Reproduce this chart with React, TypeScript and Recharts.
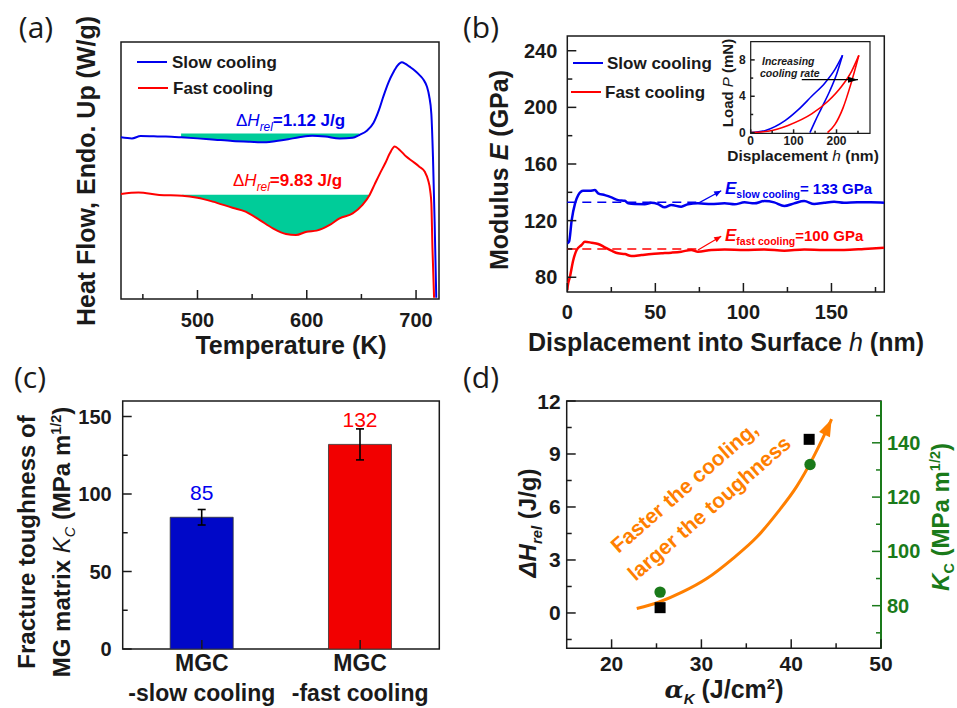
import React from "react";
import {
  ComposedChart,
  BarChart,
  Bar,
  Cell,
  ErrorBar,
  LabelList,
  Line,
  Area,
  Scatter,
  XAxis,
  YAxis,
  ReferenceArea,
  ReferenceLine,
} from "recharts";

const SANS = '"Liberation Sans", Arial, sans-serif';
const LETTER = '"Open Sans", "Noto Sans", sans-serif';
const INK = "#1a1a1a";
const BLUE = "#0000ee";
const RED = "#ff0000";
const TEAL = "#00cc99";
const GREEN = "#1a7a1a";
const ORANGE = "#ff7f00";

// (a) DSC scans, heat flow in arbitrary units (0..100 over the frame)
const slowT = [430, 440, 448, 460, 471, 485, 500, 516, 532, 548, 563, 572, 583, 593, 605, 617, 630, 642, 648, 655, 661, 666, 670, 675, 679, 683, 687, 690, 694, 699, 703, 707, 710, 712, 714, 715.5, 717, 718.5];
const slowHF = [62.9, 62.5, 63.4, 63.3, 63.2, 62.9, 62.5, 62.0, 61.5, 61.2, 61.0, 61.5, 62.2, 62.9, 63.5, 63.2, 62.5, 62.7, 63.8, 65.5, 68.5, 73.5, 78.7, 84.5, 88, 90.8, 92.1, 91.6, 90.4, 88.8, 87.2, 85.2, 82.6, 79, 72, 55, 30, 0.5];
const fastT = [430, 446, 465, 486, 500, 514, 532, 544, 557, 569, 581, 590, 600, 609, 621, 630, 642, 651, 657.5, 662, 667, 672, 676, 680.5, 685, 691, 697, 703, 708, 711, 713, 714, 715, 716.5];
const fastHF = [40.9, 41.4, 40.5, 40.2, 39.4, 37.9, 35.5, 34.0, 30.7, 27.5, 25.3, 24.9, 26.2, 26.6, 28.8, 31.4, 33.3, 36.6, 40.5, 44.5, 48.9, 53, 56.7, 59.3, 58, 55.4, 53.5, 51.5, 49.5, 46.3, 42, 37.2, 20, 0.5];
const slowRelax = [485, 650];
const slowRelaxLevel = 64.4;
const fastRelax = [486, 657.5];
const fastRelaxLevel = 40.6;
const tempTicks = [450, 500, 550, 600, 650, 700];
const tempMajor = [500, 600, 700];

// (b) modulus vs depth
const depthSlow = [0, 1, 2.5, 4.4, 6.2, 9, 12.8, 15.7, 17.5, 21.3, 25.1, 28.9, 32.7, 34.6, 38.3, 44, 47.8, 51.5, 55.3, 59, 64.7, 68.5, 74.2, 81.7, 89.3, 95, 100.6, 106.2, 111.9, 117.5, 123.2, 128.8, 134.5, 140.2, 145.8, 151.5, 157.1, 164.7, 172.3, 180];
const modSlow = [104, 105.1, 120.4, 132.2, 138, 141.1, 141.1, 141.6, 139.3, 138, 136.4, 134.5, 134, 132.2, 131.7, 131.6, 132.6, 131.7, 129.4, 131, 129.8, 131.6, 132.2, 131.7, 132.2, 131.5, 132.9, 132.2, 133.8, 132.9, 130.3, 132.2, 133.8, 131.7, 132.6, 133.3, 132.6, 132.9, 132.9, 132.6];
const depthFast = [0, 0.2, 1.5, 3.4, 5.3, 8.1, 10, 13.8, 17.5, 21.3, 25.1, 28.9, 32.7, 36.4, 42.1, 47.8, 53.4, 59.1, 64.7, 70.4, 74.2, 81.7, 89.3, 100.6, 111.9, 123.2, 134.5, 145.8, 157.1, 168.5, 180];
const modFast = [71, 73.4, 80.4, 92.2, 99.3, 102.8, 105.1, 104.4, 103.5, 101.2, 98.8, 96.9, 96.4, 95, 95.7, 96.4, 96.9, 97.4, 98.1, 99.3, 98, 99.3, 99.7, 99.3, 99.7, 98.8, 99.7, 99.3, 99.3, 100, 100.9];
const eSlow = 133;
const eFast = 100;
const avgSpan = [0, 74];
const slowPointer = [[74.2, 132.2], [87.4, 141.1]];
const fastPointer = [[74.2, 99.3], [87.4, 109]];
const depthTicks = [0, 25, 50, 75, 100, 125, 150, 175];
const depthMajor = [0, 50, 100, 150];
const modTicks = [80, 100, 120, 140, 160, 180, 200, 220, 240];
const modMajor = [80, 120, 160, 200, 240];

// (b) inset: load-displacement
const loadSlowH = [0, 33, 80, 111, 142, 173, 196, 214];
const loadSlowP = [0, 0.22, 1.32, 2.53, 4.0, 5.47, 6.93, 8.5];
const unloadSlowH = [138, 150, 165, 184, 200, 214];
const unloadSlowP = [0, 1.25, 2.7, 4.55, 6.4, 8.5];
const loadFastH = [0, 40, 87, 142, 180, 212, 235, 252];
const loadFastP = [0, 0.15, 0.8, 2.06, 3.45, 5.1, 6.75, 8.5];
const unloadFastH = [179, 196, 215, 233, 252];
const unloadFastP = [0, 0.88, 2.7, 5.28, 8.5];
const rateArrow = [[119, 5.83], [250, 5.83]];

// (c) fracture toughness
const groups = ["MGC\n-slow cooling", "MGC\n-fast cooling"];
const kcMean = [85, 132];
const kcErr = [5, 10];
const barFill = ["#0008c8", "#f20000"];
const labelFill = [BLUE, RED];
const kcTicks = [0, 25, 50, 75, 100, 125, 150];
const kcMajor = [0, 50, 100, 150];

// (d) correlation
const trendA = [22.8, 25.3, 27.9, 30.6, 33.5, 36.2, 38.4, 40.6, 42.5, 43.6, 44.5];
const trendH = [0.25, 0.62, 1.19, 1.95, 3.08, 4.31, 5.64, 7.15, 8.85, 9.98, 10.97];
const impactA = [25.4, 42.0];
const relaxH = [0.3, 9.83];
const toughA = [25.4, 42.1];
const toughK = [85, 132];
const akTicks = [20, 25, 30, 35, 40, 45, 50];
const akMajor = [20, 30, 40, 50];
const dhTicks = [-1.5, 0, 1.5, 3, 4.5, 6, 7.5, 9, 10.5, 12];
const dhMajor = [0, 3, 6, 9, 12];
const kTicks = [70, 80, 90, 100, 110, 120, 130, 140, 150];
const kMajor = [80, 100, 120, 140];

const zip = (xs: number[], ys: number[]) => xs.map((x, i) => ({ x, y: ys[i] }));
const pairs = (p: number[][]) => p.map(([x, y]) => ({ x, y }));
const fillBetween = (xs: number[], ys: number[], span: number[], level: number) =>
  xs
    .map((x, i) => ({ x, r: [Math.min(ys[i], level), level] }))
    .filter((d) => d.x >= span[0] && d.x <= span[1]);

type TickOpts = {
  side: "bottom" | "left" | "right";
  majors: number[];
  size: number;
  gap: number;
  color?: string;
  len?: number;
  minor?: number;
};

// inward ticks, Origin style
function makeTick(o: TickOpts) {
  const c = o.color ?? INK;
  const len = o.len ?? 9;
  const ml = o.minor ?? 5;
  return (p: any) => {
    const v = p.payload.value;
    const major = o.majors.includes(v);
    const l = major ? len : ml;
    const { x, y } = p;
    const txt = { fontFamily: SANS, fontWeight: 700, fontSize: o.size, fill: c };
    if (o.side === "bottom") {
      return (
        <g>
          <line x1={x} y1={y} x2={x} y2={y - l} stroke={c} strokeWidth={1.5} />
          {major && (
            <text x={x} y={y + o.gap} textAnchor="middle" dominantBaseline="central" style={txt}>
              {v}
            </text>
          )}
        </g>
      );
    }
    const dir = o.side === "left" ? 1 : -1;
    return (
      <g>
        <line x1={x} y1={y} x2={x + dir * l} y2={y} stroke={c} strokeWidth={1.5} />
        {major && (
          <text
            x={x - dir * o.gap}
            y={y}
            textAnchor={o.side === "left" ? "end" : "start"}
            dominantBaseline="central"
            style={txt}
          >
            {v}
          </text>
        )}
      </g>
    );
  };
}

function arrowHead(color: string, len: number, half: number, n: number) {
  let prev: { x: number; y: number } | null = null;
  return (p: any) => {
    const pts = p.points;
    const before = pts && pts.length > 1 ? pts[pts.length - 2] : prev;
    prev = { x: p.cx, y: p.cy };
    if (p.index !== n - 1 || !before) return <g key={`d${p.index}`} />;
    const ang = Math.atan2(p.cy - before.y, p.cx - before.x);
    const ux = Math.cos(ang);
    const uy = Math.sin(ang);
    const bx = p.cx - ux * len;
    const by = p.cy - uy * len;
    const d = `M${p.cx},${p.cy} L${bx - uy * half},${by + ux * half} L${bx + uy * half},${by - ux * half} Z`;
    return <path key={`d${p.index}`} d={d} fill={color} stroke="none" />;
  };
}

function Txt(props: {
  x: number;
  y: number;
  rot?: number;
  anchor?: "start" | "middle" | "end";
  size: number;
  color?: string;
  weight?: number;
  italic?: boolean;
  font?: string;
  children: React.ReactNode;
}) {
  const { x, y, rot = 0, anchor = "middle", size, color = INK, weight = 700, italic = false, font = SANS, children } = props;
  const tx = anchor === "middle" ? "-50%" : anchor === "start" ? "0%" : "-100%";
  return (
    <div
      style={{
        position: "absolute",
        left: x,
        top: y,
        transform: `translate(${tx},-50%) rotate(${rot}deg)`,
        fontFamily: font,
        fontSize: size,
        fontWeight: weight,
        fontStyle: italic ? "italic" : "normal",
        color,
        whiteSpace: "nowrap",
        lineHeight: 1,
      }}
    >
      {children}
    </div>
  );
}

const Sub = ({ children, s = 0.62, it = false, w }: { children: React.ReactNode; s?: number; it?: boolean; w?: number }) => (
  <span style={{ fontSize: `${s}em`, position: "relative", top: "0.38em", fontStyle: it ? "italic" : undefined, fontWeight: w }}>
    {children}
  </span>
);
const Sup = ({ children, s = 0.6 }: { children: React.ReactNode; s?: number }) => (
  <span style={{ fontSize: `${s}em`, position: "relative", top: "-0.6em" }}>{children}</span>
);

const Key = ({ x, y, color }: { x: number; y: number; color: string }) => (
  <div style={{ position: "absolute", left: x, top: y - 1.25, width: 30, height: 2.5, background: color }} />
);

function CatTick(p: any) {
  const [a, b] = String(p.payload.value).split("\n");
  const txt = { fontFamily: SANS, fontWeight: 700, fontSize: 23, fill: INK };
  return (
    <g>
      <line x1={p.x} y1={p.y} x2={p.x} y2={p.y - 9} stroke={INK} strokeWidth={1.5} />
      <text x={p.x} y={p.y + 14} textAnchor="middle" dominantBaseline="central" style={txt}>
        {a}
      </text>
      <text x={p.x} y={p.y + 44} textAnchor="middle" dominantBaseline="central" style={txt}>
        {b}
      </text>
    </g>
  );
}

function ValueLabel(p: any) {
  const { x, y, width, value, index } = p;
  return (
    <text
      x={x + width / 2}
      y={y - 25}
      textAnchor="middle"
      dominantBaseline="central"
      style={{ fontFamily: SANS, fontSize: 21, fill: labelFill[index] }}
    >
      {value}
    </text>
  );
}

const noAxis = { axisLine: false, tickLine: false, tickSize: 0, tickMargin: 0, interval: 0 as const };

export default function App() {
  const slowDsc = zip(slowT, slowHF);
  const fastDsc = zip(fastT, fastHF);
  const slowFill = fillBetween(slowT, slowHF, slowRelax, slowRelaxLevel);
  const fastFill = fillBetween(fastT, fastHF, fastRelax, fastRelaxLevel);

  const kcRows = groups.map((name, i) => ({ name, v: kcMean[i], err: kcErr[i] }));
  const trend = zip(trendA, trendH);

  return (
    <div style={{ position: "absolute", left: 0, top: 0, width: 957, height: 708, background: "#fff", overflow: "hidden" }}>
      {/* (a) */}
      <div style={{ position: "absolute", left: 0, top: 0 }}>
        <ComposedChart width={478} height={330} margin={{ top: 42, right: 39, bottom: 30, left: 120 }}>
          <XAxis
            type="number"
            dataKey="x"
            domain={[430, 721]}
            ticks={tempTicks}
            allowDataOverflow
            height={1}
            {...noAxis}
            tick={makeTick({ side: "bottom", majors: tempMajor, size: 20, gap: 21 })}
          />
          <YAxis type="number" domain={[0, 100]} allowDataOverflow width={1} axisLine={false} tickLine={false} tick={false} />
          <Area data={slowFill} dataKey="r" type="monotone" stroke="none" fill={TEAL} fillOpacity={1} isAnimationActive={false} />
          <Area data={fastFill} dataKey="r" type="monotone" stroke="none" fill={TEAL} fillOpacity={1} isAnimationActive={false} />
          <Line data={slowDsc} dataKey="y" type="monotone" stroke={BLUE} strokeWidth={2} dot={false} isAnimationActive={false} />
          <Line data={fastDsc} dataKey="y" type="monotone" stroke={RED} strokeWidth={2} dot={false} isAnimationActive={false} />
          <ReferenceArea x1={430} x2={721} y1={0} y2={100} fill="none" stroke={INK} strokeWidth={1.5} ifOverflow="visible" />
        </ComposedChart>
      </div>

      {/* (b) */}
      <div style={{ position: "absolute", left: 478, top: 0 }}>
        <ComposedChart width={479} height={330} margin={{ top: 36, right: 72.7, bottom: 37, left: 88.3 }}>
          <XAxis
            type="number"
            dataKey="x"
            domain={[0, 180]}
            ticks={depthTicks}
            allowDataOverflow
            height={1}
            {...noAxis}
            tick={makeTick({ side: "bottom", majors: depthMajor, size: 20, gap: 20 })}
          />
          <YAxis
            type="number"
            domain={[69.6, 250.4]}
            ticks={modTicks}
            allowDataOverflow
            width={1}
            {...noAxis}
            tick={makeTick({ side: "left", majors: modMajor, size: 20, gap: 10 })}
          />
          <ReferenceLine segment={[{ x: avgSpan[0], y: eSlow }, { x: avgSpan[1], y: eSlow }]} stroke={BLUE} strokeWidth={1.5} strokeDasharray="9 6" />
          <ReferenceLine segment={[{ x: avgSpan[0], y: eFast }, { x: avgSpan[1], y: eFast }]} stroke={RED} strokeWidth={1.5} strokeDasharray="9 6" />
          <Line data={zip(depthSlow, modSlow)} dataKey="y" type="monotone" stroke={BLUE} strokeWidth={2.5} dot={false} isAnimationActive={false} />
          <Line data={zip(depthFast, modFast)} dataKey="y" type="monotone" stroke={RED} strokeWidth={2.5} dot={false} isAnimationActive={false} />
          <Line data={pairs(slowPointer)} dataKey="y" type="linear" stroke={BLUE} strokeWidth={1.2} dot={arrowHead(BLUE, 7, 3, 2)} isAnimationActive={false} />
          <Line data={pairs(fastPointer)} dataKey="y" type="linear" stroke={RED} strokeWidth={1.2} dot={arrowHead(RED, 7, 3, 2)} isAnimationActive={false} />
          <ReferenceArea x1={0} x2={180} y1={69.6} y2={250.4} fill="none" stroke={INK} strokeWidth={1.5} ifOverflow="visible" />
        </ComposedChart>
      </div>

      {/* (b) inset */}
      <div style={{ position: "absolute", left: 700, top: 30 }}>
        <ComposedChart width={180} height={130} margin={{ top: 11.7, right: 10, bottom: 25.7, left: 49.7 }}>
          <XAxis
            type="number"
            dataKey="x"
            domain={[0, 278]}
            ticks={[0, 50, 100, 150, 200, 250]}
            allowDataOverflow
            height={1}
            {...noAxis}
            tick={makeTick({ side: "bottom", majors: [0, 100, 200], size: 12, gap: 7.5, len: 4, minor: 2.5 })}
          />
          <YAxis
            type="number"
            domain={[-0.07, 10]}
            ticks={[0, 2, 4, 6, 8]}
            allowDataOverflow
            width={1}
            {...noAxis}
            tick={makeTick({ side: "left", majors: [0, 4, 8], size: 12, gap: 5, len: 4, minor: 2.5 })}
          />
          <Line data={zip(loadSlowH, loadSlowP)} dataKey="y" type="monotone" stroke={BLUE} strokeWidth={1.6} dot={false} isAnimationActive={false} />
          <Line data={zip(unloadSlowH, unloadSlowP)} dataKey="y" type="monotone" stroke={BLUE} strokeWidth={1.6} dot={false} isAnimationActive={false} />
          <Line data={zip(loadFastH, loadFastP)} dataKey="y" type="monotone" stroke={RED} strokeWidth={1.6} dot={false} isAnimationActive={false} />
          <Line data={zip(unloadFastH, unloadFastP)} dataKey="y" type="monotone" stroke={RED} strokeWidth={1.6} dot={false} isAnimationActive={false} />
          <Line data={pairs(rateArrow)} dataKey="y" type="linear" stroke="#000" strokeWidth={1.2} dot={arrowHead("#000", 10, 3, 2)} isAnimationActive={false} />
          <ReferenceArea x1={0} x2={278} y1={-0.07} y2={10} fill="none" stroke={INK} strokeWidth={1.2} ifOverflow="visible" />
        </ComposedChart>
      </div>

      {/* (c) */}
      <div style={{ position: "absolute", left: 0, top: 340 }}>
        <BarChart width={478} height={368} data={kcRows} margin={{ top: 61, right: 38.7, bottom: 58, left: 121.7 }} barCategoryGap="30%">
          <XAxis dataKey="name" type="category" height={1} {...noAxis} tick={CatTick} />
          <YAxis
            type="number"
            domain={[0, 160]}
            ticks={kcTicks}
            allowDataOverflow
            width={1}
            {...noAxis}
            tick={makeTick({ side: "left", majors: kcMajor, size: 20, gap: 11 })}
          />
          <Bar dataKey="v" isAnimationActive={false} stroke="#333" strokeWidth={0.8}>
            {kcRows.map((r, i) => (
              <Cell key={r.name} fill={barFill[i]} />
            ))}
            <ErrorBar dataKey="err" width={4} stroke="#000" strokeWidth={1.6} direction="y" />
            <LabelList dataKey="v" content={ValueLabel} />
          </Bar>
          <ReferenceArea y1={0} y2={160} fill="none" stroke={INK} strokeWidth={1.5} ifOverflow="visible" />
        </BarChart>
      </div>

      {/* (d) */}
      <div style={{ position: "absolute", left: 478, top: 340 }}>
        <ComposedChart width={479} height={368} margin={{ top: 61, right: 75, bottom: 58.7, left: 87.7 }}>
          <XAxis
            type="number"
            dataKey="x"
            domain={[15, 50]}
            ticks={akTicks}
            allowDataOverflow
            height={1}
            {...noAxis}
            tick={makeTick({ side: "bottom", majors: akMajor, size: 21, gap: 15 })}
          />
          <YAxis
            yAxisId="L"
            type="number"
            domain={[-2, 12]}
            ticks={dhTicks}
            allowDataOverflow
            width={1}
            {...noAxis}
            tick={makeTick({ side: "left", majors: dhMajor, size: 21, gap: 6 })}
          />
          <YAxis
            yAxisId="R"
            orientation="right"
            type="number"
            domain={[64.3, 155.4]}
            ticks={kTicks}
            allowDataOverflow
            width={1}
            {...noAxis}
            tick={makeTick({ side: "right", majors: kMajor, size: 20, gap: 6, color: GREEN })}
          />
          <ReferenceArea yAxisId="L" x1={15} x2={50} y1={-2} y2={12} fill="none" stroke={INK} strokeWidth={1.5} ifOverflow="visible" />
          <ReferenceLine yAxisId="R" segment={[{ x: 50, y: 64.3 }, { x: 50, y: 155.4 }]} stroke={GREEN} strokeWidth={2} ifOverflow="visible" />
          <Line yAxisId="L" data={trend} dataKey="y" type="monotone" stroke={ORANGE} strokeWidth={3} dot={arrowHead(ORANGE, 17, 6, trend.length)} isAnimationActive={false} />
          <Scatter
            yAxisId="L"
            data={zip(impactA, relaxH)}
            dataKey="y"
            isAnimationActive={false}
            shape={(p: any) => <rect x={p.cx - 5.5} y={p.cy - 5.5} width={11} height={11} fill="#000" />}
          />
          <Scatter
            yAxisId="R"
            data={zip(toughA, toughK)}
            dataKey="y"
            isAnimationActive={false}
            shape={(p: any) => <circle cx={p.cx} cy={p.cy} r={5.7} fill={GREEN} />}
          />
        </ComposedChart>
      </div>

      {/* titles and annotations */}
      <Txt x={36} y={27} size={30} weight={400} font={LETTER}>(a)</Txt>
      <Txt x={481} y={27} size={30} weight={400} font={LETTER}>(b)</Txt>
      <Txt x={30} y={377} size={30} weight={400} font={LETTER}>(c)</Txt>
      <Txt x={481} y={377} size={30} weight={400} font={LETTER}>(d)</Txt>

      <Txt x={86} y={171} rot={-90} size={25}>Heat Flow, Endo. Up (W/g)</Txt>
      <Txt x={291} y={345} size={25}>Temperature (K)</Txt>
      <Key x={137} y={62} color={BLUE} />
      <Txt x={172} y={62} anchor="start" size={17}>Slow cooling</Txt>
      <Key x={138} y={88} color={RED} />
      <Txt x={173} y={88} anchor="start" size={17}>Fast cooling</Txt>
      <Txt x={236} y={120} anchor="start" size={17} color={BLUE}>
        <span style={{ fontWeight: 400 }}>Δ</span>
        <span style={{ fontWeight: 400, fontStyle: "italic" }}>H</span>
        <Sub it w={400} s={0.7}>rel</Sub>=1.12 J/g
      </Txt>
      <Txt x={233} y={180} anchor="start" size={17} color={RED}>
        <span style={{ fontWeight: 400 }}>Δ</span>
        <span style={{ fontWeight: 400, fontStyle: "italic" }}>H</span>
        <Sub it w={400} s={0.7}>rel</Sub>=9.83 J/g
      </Txt>

      <Txt x={499} y={170} rot={-90} size={25}>
        Modulus <i>E</i> (GPa)
      </Txt>
      <Txt x={726} y={342} size={25}>
        Displacement into Surface <i style={{ fontWeight: 400 }}>h</i> (nm)
      </Txt>
      <Key x={573} y={63} color={BLUE} />
      <Txt x={607} y={63} anchor="start" size={17}>Slow cooling</Txt>
      <Key x={571} y={92} color={RED} />
      <Txt x={605} y={92} anchor="start" size={17}>Fast cooling</Txt>
      <Txt x={725} y={188} anchor="start" size={15} color={BLUE}>
        <i style={{ fontSize: 17 }}>E</i>
        <Sub s={0.7}>slow cooling</Sub>= 133 GPa
      </Txt>
      <Txt x={725} y={235} anchor="start" size={15} color={RED}>
        <i style={{ fontSize: 17 }}>E</i>
        <Sub s={0.7}>fast cooling</Sub>=100 GPa
      </Txt>
      <Txt x={727} y={83} rot={-90} size={15}>
        Load <i style={{ fontWeight: 400 }}>P</i> (mN)
      </Txt>
      <Txt x={803} y={155.5} size={15.5}>
        Displacement <i style={{ fontWeight: 400 }}>h</i> (nm)
      </Txt>
      <Txt x={762} y={61} anchor="start" size={10.5} italic>Increasing</Txt>
      <Txt x={760} y={73} anchor="start" size={10.5} italic>cooling rate</Txt>

      <Txt x={27} y={542} rot={-90} size={24}>Fracture toughness of</Txt>
      <Txt x={62} y={542} rot={-90} size={24}>
        MG matrix <i style={{ fontWeight: 400 }}>K</i>
        <Sub s={0.6} w={400} it>C</Sub> (MPa m<Sup>1/2</Sup>)
      </Txt>

      <Txt x={528} y={523} rot={-90} size={24}>
        <i>ΔH</i>
        <Sub s={0.62} it>rel</Sub> (J/g)
      </Txt>
      <Txt x={941} y={517} rot={-90} size={24} color={GREEN}>
        <i>K</i>
        <Sub s={0.6}>C</Sub> (MPa m<Sup>1/2</Sup>)
      </Txt>
      <Txt x={724} y={689} size={25}>
        <i style={{ fontFamily: '"DejaVu Serif", serif' }}>α</i>
        <Sub s={0.6} it>K</Sub> (J/cm<Sup>2</Sup>)
      </Txt>
      <Txt x={684} y={487} rot={-41} size={21} color={ORANGE}>Faster the cooling,</Txt>
      <Txt x={709} y={508} rot={-41} size={21} color={ORANGE}>larger the toughness</Txt>
    </div>
  );
}
